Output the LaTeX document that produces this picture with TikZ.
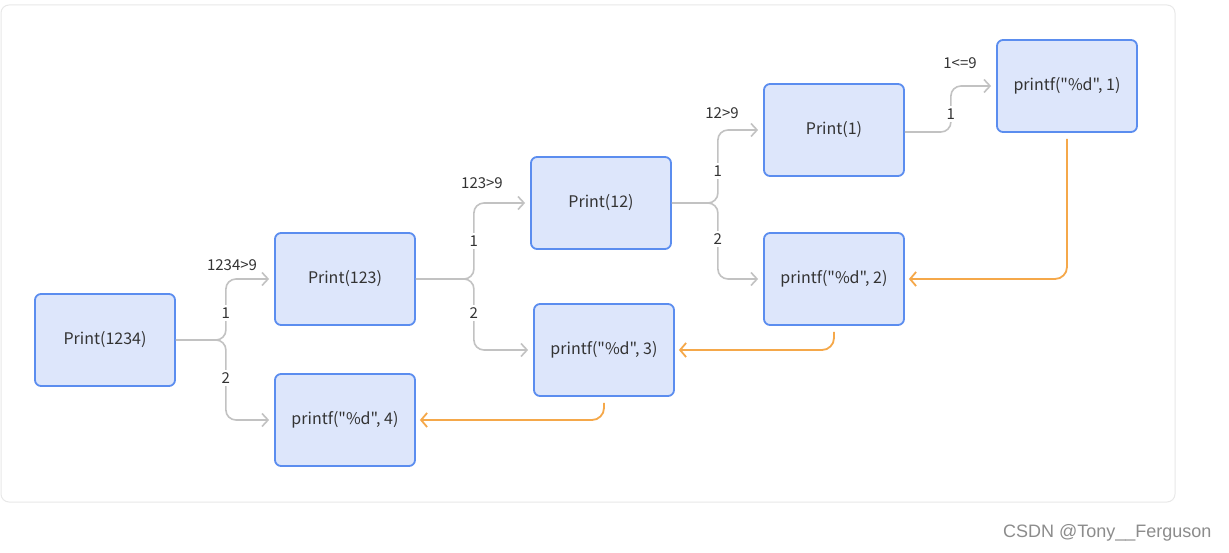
\documentclass[tikz,border=0pt]{standalone}
\usepackage{fontspec}
\newfontfamily\nf{Noto Sans CJK SC}
\newfontfamily\wmfont{Liberation Sans}
\usetikzlibrary{arrows.meta,calc}
\definecolor{boxfill}{HTML}{DDE6FB}
\definecolor{boxline}{HTML}{5B8DEF}
\definecolor{gline}{HTML}{C2C2C2}
\definecolor{oline}{HTML}{F5A84A}
\definecolor{txt}{HTML}{333333}
\definecolor{panel}{HTML}{E8E8E8}
\tikzset{
  box/.style={draw=boxline, fill=boxfill, line width=1.8pt, rounded corners=6pt,
    minimum width=140pt, minimum height=92pt, inner sep=0pt,
    font=\nf\fontsize{16}{19}\selectfont, text=txt},
  gconn/.style={draw=gline, line width=1.6pt, rounded corners=10pt,
    -{Straight Barb[length=6pt,width=13pt,line width=1.6pt]}, shorten >=5pt},
  oconn/.style={draw=oline, line width=1.8pt, rounded corners=12pt,
    -{Straight Barb[length=6pt,width=14pt,line width=1.8pt]}, shorten >=4pt, shorten <=6pt},
  lbl/.style={font=\nf\fontsize{15}{17}\selectfont, text=txt, inner sep=2pt},
  onlbl/.style={lbl, fill=white, inner sep=3pt},
}
\begin{document}
\begin{tikzpicture}[x=1pt,y=-1pt]
\useasboundingbox (0,0) rectangle (1229,553);
\fill[white] (0,0) rectangle (1229,553);
\draw[panel, line width=1pt, rounded corners=8pt, fill=white] (1,5) rectangle (1175,502);

% boxes
\node[box] (p1234) at (105,340) {Print(1234)};
\node[box] (p123)  at (345,279) {Print(123)};
\node[box] (pf4)   at (345,420) {printf("\%d", 4)};
\node[box] (p12)   at (601,203) {Print(12)};
\node[box] (pf3)   at (604,350) {printf("\%d", 3)};
\node[box] (p1)    at (834,130) {Print(1)};
\node[box] (pf2)   at (834,279) {printf("\%d", 2)};
\node[box] (pf1)   at (1067,86) {printf("\%d", 1)};

% branch points
\coordinate (b1) at ([xshift=50pt]p1234.east);
\coordinate (b2) at ([xshift=58pt]p123.east);
\coordinate (b3) at ([xshift=46pt]p12.east);
\coordinate (b4) at ([xshift=46pt]p1.east);

% grey connectors
\draw[gconn] (p1234.east) -- (b1) |- (p123.west);
\draw[gconn] (p1234.east) -- (b1) |- (pf4.west);
\draw[gconn] (p123.east) -- (b2) |- (p12.west);
\draw[gconn] (p123.east) -- (b2) |- (pf3.west);
\draw[gconn] (p12.east) -- (b3) |- (p1.west);
\draw[gconn] (p12.east) -- (b3) |- (pf2.west);
\draw[gconn] ([yshift=-2pt]p1.east) -- ([yshift=-2pt]b4) |- (pf1.west);

% labels on branches
\node[onlbl] (l1a) at ($(b1)+(0,-27)$) {1};
\node[onlbl] (l1b) at ($(b1)+(0,38)$) {2};
\node[lbl] (c1) at (232,265) {1234>9};
\node[onlbl] (l2a) at ($(b2)+(0,-38)$) {1};
\node[onlbl] (l2b) at ($(b2)+(0,34)$) {2};
\node[lbl] (c2) at (482,183) {123>9};
\node[onlbl] (l3a) at ($(b3)+(0,-32)$) {1};
\node[onlbl] (l3b) at ($(b3)+(0,36)$) {2};
\node[lbl] (c3) at (722,113) {12>9};
\node[onlbl] (l4a) at ($(b4)+(0,-16)$) {1};
\node[lbl] (c4) at (960,63) {1<=9};

% orange return connectors
\draw[oconn] (pf1.south) |- (pf2.east);
\draw[oconn] (pf2.south) |- (pf3.east);
\draw[oconn] (pf3.south) |- (pf4.east);

% watermark
\node[font=\wmfont\fontsize{18}{21}\selectfont, text=black!45, anchor=east] (wm) at (1215,533) {CSDN @Tony\_\_Ferguson};
\end{tikzpicture}
\end{document}
